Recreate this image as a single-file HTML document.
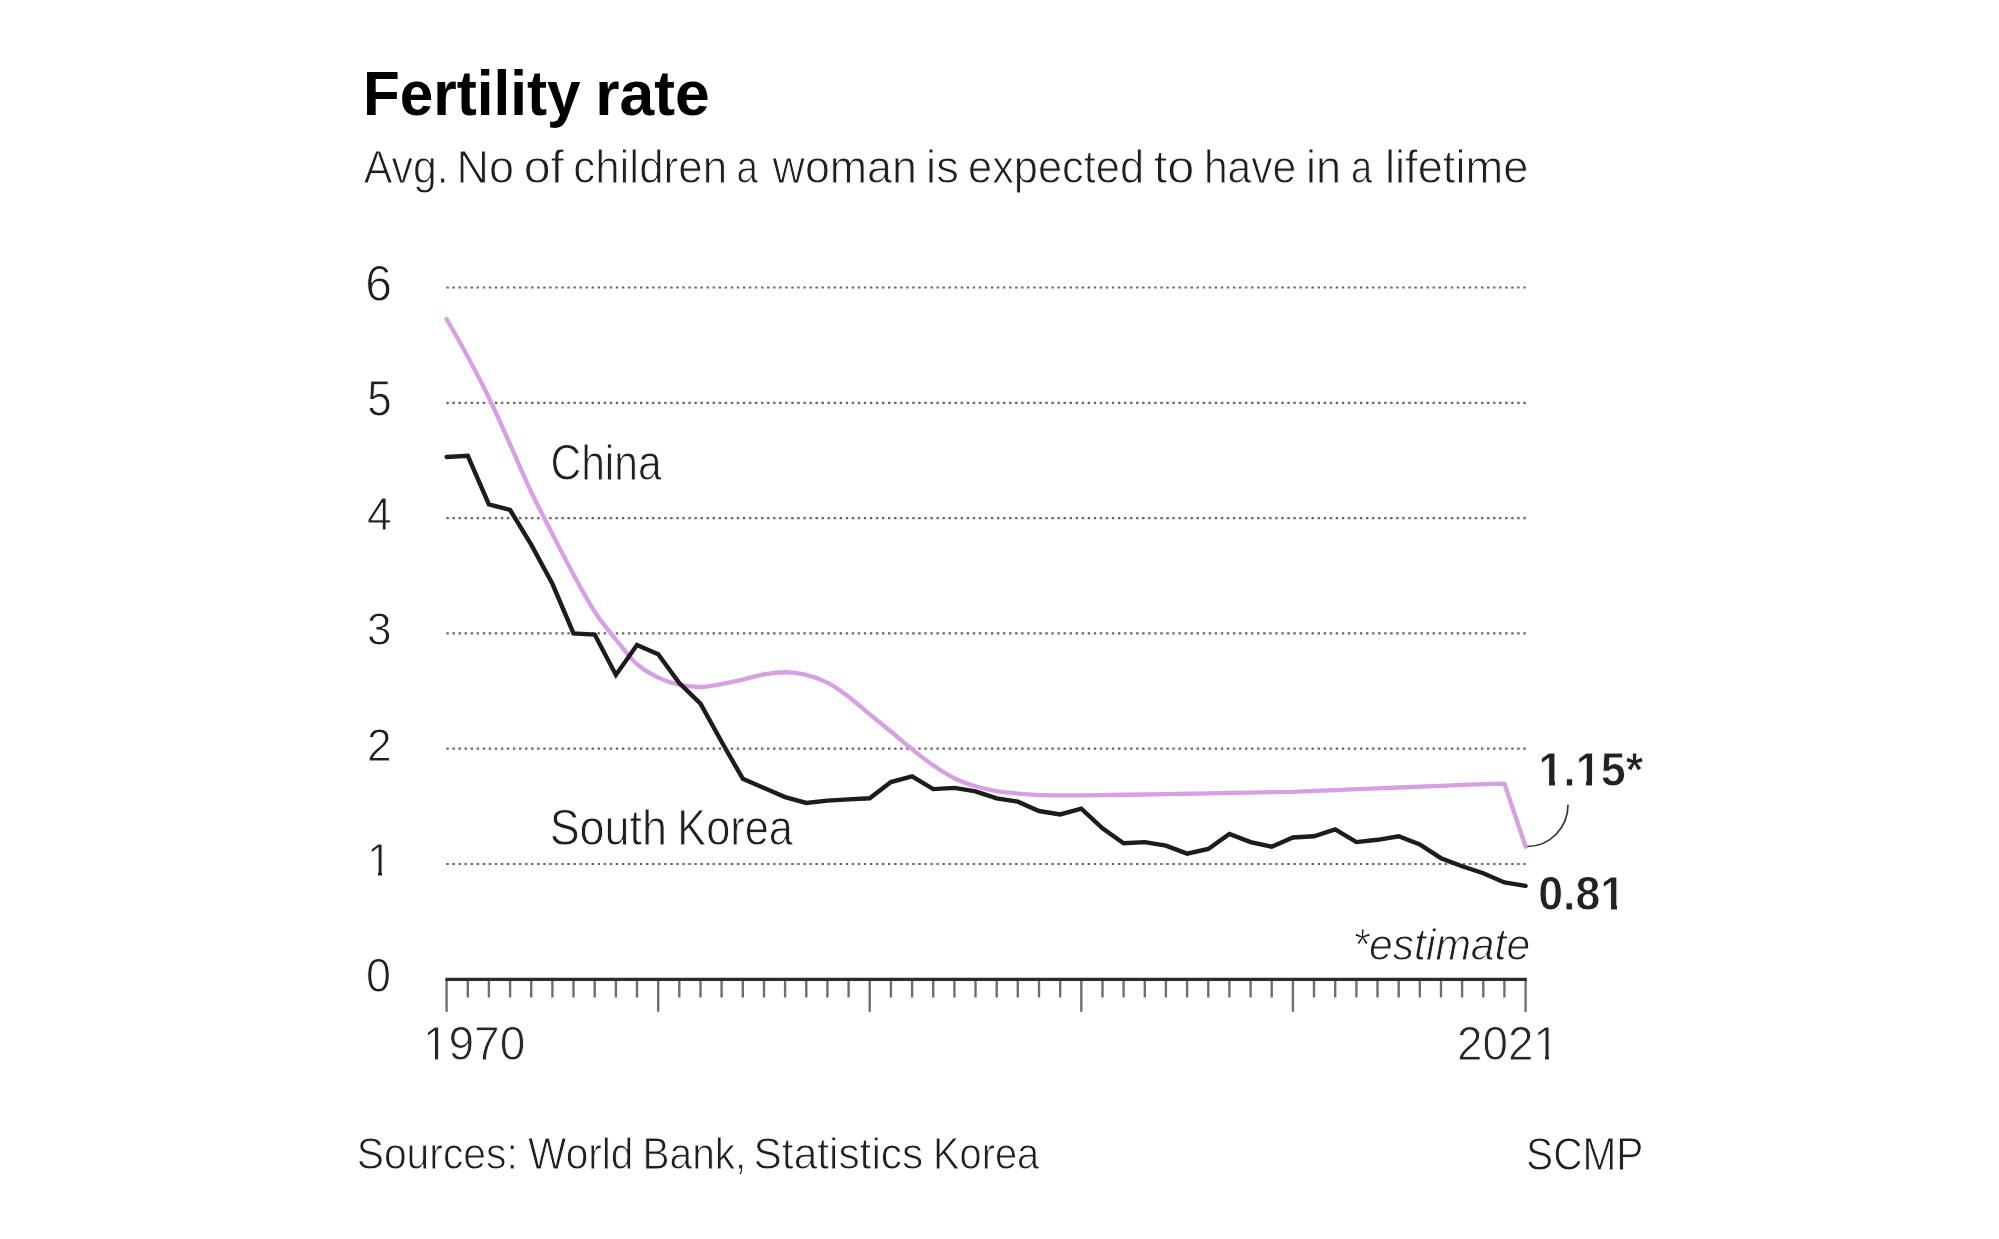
<!DOCTYPE html>
<html><head><meta charset="utf-8"><style>
html,body{margin:0;padding:0;background:#fff;}
body{width:1999px;height:1239px;overflow:hidden;}
svg{position:absolute;left:0;top:0;will-change:transform;}
text{font-family:"Liberation Sans",sans-serif;}
.b{font-weight:bold;fill:#000;}
.l{fill:#1f1f1f;stroke:#fff;stroke-width:0.9px;}
.lb{fill:#2b2424;stroke:#fff;stroke-width:0.9px;}
.v{font-weight:bold;fill:#222;stroke:#fff;stroke-width:0.8px;}
.i{font-style:italic;fill:#1f1f1f;stroke:#fff;stroke-width:0.9px;}
.g{stroke:#666;stroke-width:2.2;stroke-dasharray:2.4 3.65;}
.t{stroke:#6f6f6f;stroke-width:2.4;}
</style></head><body>
<svg width="1999" height="1239" viewBox="0 0 1999 1239">
<line x1="446.4" x2="1527.5" y1="864.0" y2="864.0" class="g"/>
<line x1="446.4" x2="1527.5" y1="748.7" y2="748.7" class="g"/>
<line x1="446.4" x2="1527.5" y1="633.4" y2="633.4" class="g"/>
<line x1="446.4" x2="1527.5" y1="518.1" y2="518.1" class="g"/>
<line x1="446.4" x2="1527.5" y1="402.8" y2="402.8" class="g"/>
<line x1="446.4" x2="1527.5" y1="287.5" y2="287.5" class="g"/>
<line x1="446.6" x2="446.6" y1="979" y2="1011.8" class="t"/>
<line x1="467.8" x2="467.8" y1="979" y2="997.5" class="t"/>
<line x1="488.9" x2="488.9" y1="979" y2="997.5" class="t"/>
<line x1="510.1" x2="510.1" y1="979" y2="997.5" class="t"/>
<line x1="531.2" x2="531.2" y1="979" y2="997.5" class="t"/>
<line x1="552.4" x2="552.4" y1="979" y2="997.5" class="t"/>
<line x1="573.5" x2="573.5" y1="979" y2="997.5" class="t"/>
<line x1="594.7" x2="594.7" y1="979" y2="997.5" class="t"/>
<line x1="615.9" x2="615.9" y1="979" y2="997.5" class="t"/>
<line x1="637.0" x2="637.0" y1="979" y2="997.5" class="t"/>
<line x1="658.2" x2="658.2" y1="979" y2="1011.8" class="t"/>
<line x1="679.3" x2="679.3" y1="979" y2="997.5" class="t"/>
<line x1="700.5" x2="700.5" y1="979" y2="997.5" class="t"/>
<line x1="721.6" x2="721.6" y1="979" y2="997.5" class="t"/>
<line x1="742.8" x2="742.8" y1="979" y2="997.5" class="t"/>
<line x1="764.0" x2="764.0" y1="979" y2="997.5" class="t"/>
<line x1="785.1" x2="785.1" y1="979" y2="997.5" class="t"/>
<line x1="806.3" x2="806.3" y1="979" y2="997.5" class="t"/>
<line x1="827.4" x2="827.4" y1="979" y2="997.5" class="t"/>
<line x1="848.6" x2="848.6" y1="979" y2="997.5" class="t"/>
<line x1="869.7" x2="869.7" y1="979" y2="1011.8" class="t"/>
<line x1="890.9" x2="890.9" y1="979" y2="997.5" class="t"/>
<line x1="912.1" x2="912.1" y1="979" y2="997.5" class="t"/>
<line x1="933.2" x2="933.2" y1="979" y2="997.5" class="t"/>
<line x1="954.4" x2="954.4" y1="979" y2="997.5" class="t"/>
<line x1="975.5" x2="975.5" y1="979" y2="997.5" class="t"/>
<line x1="996.7" x2="996.7" y1="979" y2="997.5" class="t"/>
<line x1="1017.8" x2="1017.8" y1="979" y2="997.5" class="t"/>
<line x1="1039.0" x2="1039.0" y1="979" y2="997.5" class="t"/>
<line x1="1060.2" x2="1060.2" y1="979" y2="997.5" class="t"/>
<line x1="1081.3" x2="1081.3" y1="979" y2="1011.8" class="t"/>
<line x1="1102.5" x2="1102.5" y1="979" y2="997.5" class="t"/>
<line x1="1123.6" x2="1123.6" y1="979" y2="997.5" class="t"/>
<line x1="1144.8" x2="1144.8" y1="979" y2="997.5" class="t"/>
<line x1="1165.9" x2="1165.9" y1="979" y2="997.5" class="t"/>
<line x1="1187.1" x2="1187.1" y1="979" y2="997.5" class="t"/>
<line x1="1208.3" x2="1208.3" y1="979" y2="997.5" class="t"/>
<line x1="1229.4" x2="1229.4" y1="979" y2="997.5" class="t"/>
<line x1="1250.6" x2="1250.6" y1="979" y2="997.5" class="t"/>
<line x1="1271.7" x2="1271.7" y1="979" y2="997.5" class="t"/>
<line x1="1292.9" x2="1292.9" y1="979" y2="1011.8" class="t"/>
<line x1="1314.0" x2="1314.0" y1="979" y2="997.5" class="t"/>
<line x1="1335.2" x2="1335.2" y1="979" y2="997.5" class="t"/>
<line x1="1356.4" x2="1356.4" y1="979" y2="997.5" class="t"/>
<line x1="1377.5" x2="1377.5" y1="979" y2="997.5" class="t"/>
<line x1="1398.7" x2="1398.7" y1="979" y2="997.5" class="t"/>
<line x1="1419.8" x2="1419.8" y1="979" y2="997.5" class="t"/>
<line x1="1441.0" x2="1441.0" y1="979" y2="997.5" class="t"/>
<line x1="1462.1" x2="1462.1" y1="979" y2="997.5" class="t"/>
<line x1="1483.3" x2="1483.3" y1="979" y2="997.5" class="t"/>
<line x1="1504.4" x2="1504.4" y1="979" y2="997.5" class="t"/>
<line x1="1525.6" x2="1525.6" y1="979" y2="1011.8" class="t"/>
<line x1="445.4" x2="1526.8" y1="979.3" y2="979.3" stroke="#2c2c2c" stroke-width="3.2"/>
<path d="M446.60,318.98 C453.65,331.27 460.70,343.56 467.76,356.68 C474.81,369.80 481.86,383.10 488.91,397.73 C495.97,412.35 503.02,428.70 510.07,444.42 C517.12,460.14 524.18,477.13 531.23,492.04 C538.28,506.95 545.33,520.14 552.38,533.90 C559.44,547.66 566.49,561.63 573.54,574.60 C580.59,587.57 587.65,600.90 594.70,611.72 C601.75,622.54 608.80,630.77 615.86,639.51 C622.91,648.25 629.96,657.84 637.01,664.19 C644.07,670.53 651.12,674.14 658.17,677.56 C665.22,680.98 672.27,683.17 679.33,684.71 C686.38,686.25 693.43,687.01 700.48,687.01 C707.54,687.01 714.59,685.25 721.64,684.02 C728.69,682.79 735.75,681.25 742.80,679.64 C749.85,678.02 756.90,675.56 763.96,674.33 C771.01,673.10 778.06,672.26 785.11,672.26 C792.16,672.26 799.22,673.10 806.27,674.79 C813.32,676.48 820.37,678.98 827.43,682.63 C834.48,686.28 841.53,691.42 848.58,696.70 C855.64,701.98 862.69,708.54 869.74,714.34 C876.79,720.14 883.84,725.72 890.90,731.52 C897.95,737.32 905.00,743.53 912.05,749.16 C919.11,754.79 926.16,760.46 933.21,765.30 C940.26,770.15 947.32,774.72 954.37,778.22 C961.42,781.71 968.47,784.14 975.52,786.29 C982.58,788.44 989.63,789.92 996.68,791.13 C1003.73,792.34 1010.79,792.88 1017.84,793.55 C1024.89,794.22 1031.94,795.09 1039.00,795.17 C1046.05,795.24 1053.10,795.28 1060.15,795.28 C1067.21,795.28 1074.26,795.37 1081.31,795.28 L1102.47,795.03 L1123.62,794.75 L1144.78,794.48 L1165.94,794.20 L1187.10,793.75 L1208.25,793.30 L1229.41,792.92 L1250.57,792.55 L1271.72,792.17 L1292.88,791.80 L1314.04,790.93 L1335.19,790.05 L1356.35,789.17 L1377.51,788.30 L1398.66,787.50 L1419.82,786.70 L1440.98,785.83 L1462.14,784.97 L1483.29,784.10 L1504.45,783.70 L1525.61,846.70" fill="none" stroke="#d89fe4" stroke-width="4.3" stroke-linejoin="round" stroke-linecap="round"/>
<polyline points="446.6,457.0 467.8,455.8 488.9,504.3 510.1,510.0 531.2,544.6 552.4,583.8 573.5,633.4 594.7,634.6 615.9,674.9 637.0,644.9 658.2,654.2 679.3,683.0 700.5,703.7 721.6,741.8 742.8,778.7 764.0,787.9 785.1,797.1 806.3,802.9 827.4,800.6 848.6,799.4 869.7,798.3 890.9,782.1 912.1,776.4 933.2,789.1 954.4,787.9 975.5,791.4 996.7,798.3 1017.8,801.7 1039.0,811.0 1060.2,814.4 1081.3,808.7 1102.5,828.3 1123.6,843.2 1144.8,842.1 1165.9,845.6 1187.1,853.6 1208.3,849.0 1229.4,834.0 1250.6,842.1 1271.7,846.7 1292.9,837.5 1314.0,836.3 1335.2,829.4 1356.4,842.1 1377.5,839.8 1398.7,836.3 1419.8,844.4 1441.0,858.2 1462.1,866.3 1483.3,873.2 1504.4,882.4 1525.6,885.9" fill="none" stroke="#1e1b1b" stroke-width="4.4" stroke-linejoin="miter" stroke-miterlimit="3" stroke-linecap="round"/>
<path d="M1568,804.7 A40.6,41.8 0 0 1 1527.4,846.5" fill="none" stroke="#333" stroke-width="1.7"/>
<text x="363.0" y="115.4" class="b" style="font-size:63.7px" text-anchor="start" textLength="217.4" lengthAdjust="spacingAndGlyphs">Fertility</text>
<text x="595.2" y="115.4" class="b" style="font-size:63.7px" text-anchor="start" textLength="114.5" lengthAdjust="spacingAndGlyphs">rate</text>
<text x="363.7" y="183.4" class="l" style="font-size:45.6px" text-anchor="start" textLength="85.0" lengthAdjust="spacingAndGlyphs">Avg.</text>
<text x="456.6" y="183.4" class="l" style="font-size:45.6px" text-anchor="start" textLength="57.5" lengthAdjust="spacingAndGlyphs">No</text>
<text x="523.7" y="183.4" class="l" style="font-size:45.6px" text-anchor="start" textLength="40.3" lengthAdjust="spacingAndGlyphs">of</text>
<text x="573.2" y="183.4" class="l" style="font-size:45.6px" text-anchor="start" textLength="153.9" lengthAdjust="spacingAndGlyphs">children</text>
<text x="736.6" y="183.4" class="l" style="font-size:45.6px" text-anchor="start" textLength="21.4" lengthAdjust="spacingAndGlyphs">a</text>
<text x="772.6" y="183.4" class="l" style="font-size:45.6px" text-anchor="start" textLength="144.3" lengthAdjust="spacingAndGlyphs">woman</text>
<text x="926.1" y="183.4" class="l" style="font-size:45.6px" text-anchor="start" textLength="32.7" lengthAdjust="spacingAndGlyphs">is</text>
<text x="968.0" y="183.4" class="l" style="font-size:45.6px" text-anchor="start" textLength="176.1" lengthAdjust="spacingAndGlyphs">expected</text>
<text x="1153.7" y="183.4" class="l" style="font-size:45.6px" text-anchor="start" textLength="40.6" lengthAdjust="spacingAndGlyphs">to</text>
<text x="1203.9" y="183.4" class="l" style="font-size:45.6px" text-anchor="start" textLength="92.4" lengthAdjust="spacingAndGlyphs">have</text>
<text x="1305.9" y="183.4" class="l" style="font-size:45.6px" text-anchor="start" textLength="35.1" lengthAdjust="spacingAndGlyphs">in</text>
<text x="1350.9" y="183.4" class="l" style="font-size:45.6px" text-anchor="start" textLength="21.1" lengthAdjust="spacingAndGlyphs">a</text>
<text x="1385.0" y="183.4" class="l" style="font-size:45.6px" text-anchor="start" textLength="143.4" lengthAdjust="spacingAndGlyphs">lifetime</text>
<text x="365.2" y="300.6" class="l" style="font-size:49.6px" text-anchor="start" textLength="26.7" lengthAdjust="spacingAndGlyphs">6</text>
<text x="367.3" y="415.5" class="l" style="font-size:49.5px" text-anchor="start" textLength="24.5" lengthAdjust="spacingAndGlyphs">5</text>
<text x="367.0" y="530.0" class="l" style="font-size:47.0px" text-anchor="start" textLength="24.6" lengthAdjust="spacingAndGlyphs">4</text>
<text x="367.0" y="645.3" class="l" style="font-size:47.0px" text-anchor="start" textLength="24.6" lengthAdjust="spacingAndGlyphs">3</text>
<text x="367.0" y="760.6" class="l" style="font-size:47.0px" text-anchor="start" textLength="24.6" lengthAdjust="spacingAndGlyphs">2</text>
<text x="367.0" y="875.9" class="l" style="font-size:47.0px" text-anchor="start" textLength="24.6" lengthAdjust="spacingAndGlyphs">1</text>
<text x="366.0" y="991.5" class="l" style="font-size:47.7px" text-anchor="start" textLength="25.0" lengthAdjust="spacingAndGlyphs">0</text>
<text x="550.4" y="479.6" class="l" style="font-size:49.6px" text-anchor="start" textLength="111.3" lengthAdjust="spacingAndGlyphs">China</text>
<text x="549.7" y="844.5" class="l" style="font-size:50.3px" text-anchor="start" textLength="117.3" lengthAdjust="spacingAndGlyphs">South</text>
<text x="677.3" y="844.5" class="l" style="font-size:50.3px" text-anchor="start" textLength="115.5" lengthAdjust="spacingAndGlyphs">Korea</text>
<text x="1538.3" y="786.2" class="v" style="font-size:48.0px" text-anchor="start" textLength="105.0" lengthAdjust="spacingAndGlyphs">1.15*</text>
<text x="1538.2" y="910.0" class="v" style="font-size:47.3px" text-anchor="start" textLength="86.9" lengthAdjust="spacingAndGlyphs">0.81</text>
<text x="1352.5" y="960.1" class="i" style="font-size:43.5px" text-anchor="start" textLength="177.6" lengthAdjust="spacingAndGlyphs">*estimate</text>
<text x="422.9" y="1060.2" class="lb" style="font-size:49.0px" text-anchor="start" textLength="102.4" lengthAdjust="spacingAndGlyphs">1970</text>
<text x="1457.0" y="1060.3" class="lb" style="font-size:47.5px" text-anchor="start" textLength="101.9" lengthAdjust="spacingAndGlyphs">2021</text>
<text x="356.7" y="1169.2" class="l" style="font-size:45.0px" text-anchor="start" textLength="161.1" lengthAdjust="spacingAndGlyphs">Sources:</text>
<text x="528.1" y="1169.2" class="l" style="font-size:45.0px" text-anchor="start" textLength="105.3" lengthAdjust="spacingAndGlyphs">World</text>
<text x="642.5" y="1169.2" class="l" style="font-size:45.0px" text-anchor="start" textLength="103.9" lengthAdjust="spacingAndGlyphs">Bank,</text>
<text x="753.6" y="1169.2" class="l" style="font-size:45.0px" text-anchor="start" textLength="169.6" lengthAdjust="spacingAndGlyphs">Statistics</text>
<text x="933.1" y="1169.2" class="l" style="font-size:45.0px" text-anchor="start" textLength="106.0" lengthAdjust="spacingAndGlyphs">Korea</text>
<text x="1526.1" y="1169.5" class="l" style="font-size:45.5px" text-anchor="start" textLength="117.3" lengthAdjust="spacingAndGlyphs">SCMP</text>
<rect class="mask" x="370" y="872" width="8" height="4" fill="#fff"/>
<rect class="mask" x="382" y="872" width="8" height="4" fill="#fff"/>
<rect class="mask" x="1541" y="781" width="8" height="5" fill="#fff"/>
<rect class="mask" x="1555" y="781" width="7" height="5" fill="#fff"/>
<rect class="mask" x="1578" y="781" width="8" height="5" fill="#fff"/>
<rect class="mask" x="1592" y="781" width="8" height="5" fill="#fff"/>
<rect class="mask" x="1603" y="905" width="8" height="5" fill="#fff"/>
<rect class="mask" x="1617" y="905" width="7" height="5" fill="#fff"/>
<rect class="mask" x="426" y="1056" width="9" height="4" fill="#fff"/>
<rect class="mask" x="438" y="1056" width="9" height="4" fill="#fff"/>
<rect class="mask" x="1537" y="1056" width="8" height="4" fill="#fff"/>
<rect class="mask" x="1549" y="1056" width="8" height="4" fill="#fff"/>
</svg>
</body></html>
